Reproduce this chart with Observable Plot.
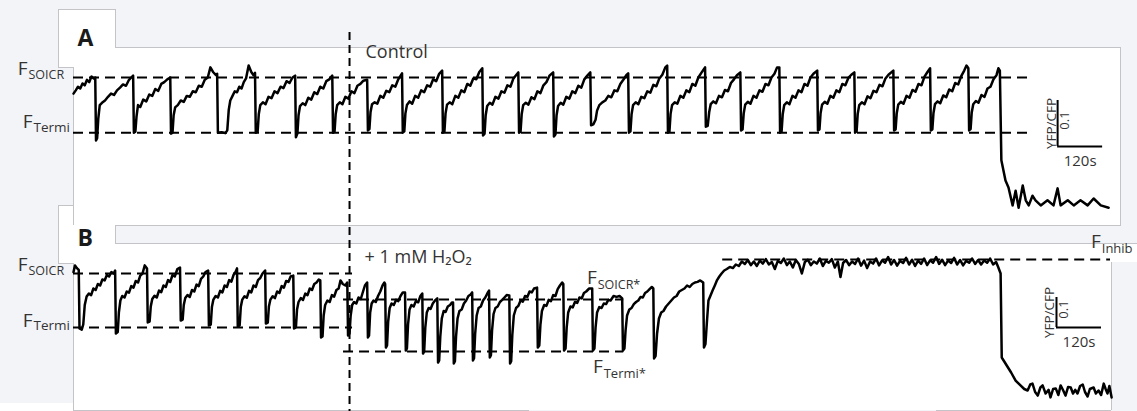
<!DOCTYPE html>
<html><head><meta charset="utf-8">
<script src="https://cdn.jsdelivr.net/npm/d3@7"></script>
<script src="https://cdn.jsdelivr.net/npm/@observablehq/plot@0.6"></script>
<style>
html,body{margin:0;padding:0}
body{width:1137px;height:411px;overflow:hidden;position:relative;background:#f3f4f8;font-family:"Open Sans",sans-serif}
.w{position:absolute;background:#fff}
.h{position:absolute;height:1px;background:#c3c3c8}
.v{position:absolute;width:1px;background:#c3c3c8}
.plot{position:absolute;left:0;top:0}
.t{position:absolute;font-weight:700;color:#1c1c1c;font-size:46px;line-height:46px;font-family:"Open Sans",sans-serif}
</style></head><body>
<div class="t" style="left:421px;top:-53px">g</div>
<div class="t" style="left:951px;top:-52px">y</div>
<!-- panel backgrounds -->
<div class="w" style="left:58px;top:9px;width:57px;height:58px"></div>
<div class="w" style="left:73px;top:47px;width:1047px;height:178px"></div>
<div class="w" style="left:58px;top:205px;width:57px;height:58px"></div>
<div class="w" style="left:73px;top:243px;width:1038px;height:167px"></div>
<div class="w" style="left:1111px;top:243px;width:26px;height:19px"></div>
<div class="w" style="left:0px;top:403px;width:73px;height:8px"></div>
<div class="h" style="left:58px;top:9px;width:57px"></div>
<div class="v" style="left:58px;top:9px;height:58px"></div>
<div class="v" style="left:115px;top:9px;height:38px"></div>
<div class="h" style="left:115px;top:47px;width:1005px"></div>
<div class="v" style="left:1120px;top:47px;height:178px"></div>
<div class="h" style="left:115px;top:225px;width:1006px"></div>
<div class="h" style="left:58px;top:67px;width:15px"></div>
<div class="v" style="left:73px;top:67px;height:158px"></div>
<div class="v" style="left:115px;top:225px;height:18px"></div>
<div class="h" style="left:58px;top:205px;width:15px"></div>
<div class="v" style="left:58px;top:205px;height:58px"></div>
<div class="h" style="left:58px;top:263px;width:15px"></div>
<div class="h" style="left:115px;top:243px;width:1022px"></div>
<div class="v" style="left:73px;top:263px;height:147px"></div>
<div class="v" style="left:1111px;top:262px;height:148px"></div>
<div class="h" style="left:73px;top:410px;width:456px"></div>
<div class="h" style="left:936px;top:410px;width:175px"></div>
<div id="pa" class="plot"></div>
<div id="pb" class="plot"></div>
<script>
// ---------------- data ----------------
// time in s, ratio YFP/CFP (each panel has its own 0.1 scale bar)
const traceA = [
[0,1.165],[6,1.172],[12,1.180],[18,1.176],[24,1.187],[30,1.183],[36,1.195],[42,1.190],[48,1.202],[54,1.198],[58,1.200],
[60,1.063],[63,1.068],[66,1.110],[70,1.140],[76,1.145],[84,1.150],[92,1.158],[100,1.165],[108,1.162],[116,1.172],[124,1.178],[132,1.185],[140,1.182],[148,1.195],[154,1.200],[159,1.204],
[161,1.080],[165,1.082],[168,1.115],[172,1.140],[178,1.136],[186,1.152],[194,1.148],[202,1.163],[210,1.160],[218,1.175],[226,1.171],[234,1.186],[242,1.190],[250,1.196],[258,1.200],
[260,1.078],[264,1.080],[267,1.118],[271,1.135],[278,1.140],[286,1.150],[294,1.147],[302,1.160],[310,1.158],[318,1.170],[326,1.168],[334,1.182],[342,1.180],[350,1.195],[358,1.200],[365,1.222],[372,1.212],[380,1.205],[383,1.208],
[385,1.080],[395,1.081],[405,1.079],[410,1.085],[414,1.130],[418,1.150],[424,1.160],[430,1.170],[436,1.168],[442,1.180],[448,1.176],[454,1.190],[460,1.198],[467,1.226],[474,1.212],[480,1.205],[484,1.210],
[486,1.080],[491,1.083],[494,1.120],[498,1.140],[505,1.146],[512,1.142],[520,1.158],[528,1.155],[536,1.170],[544,1.166],[552,1.180],[560,1.177],[568,1.192],[576,1.188],[584,1.200],[591,1.204],
[593,1.070],[597,1.078],[600,1.118],[604,1.138],[611,1.144],[618,1.140],[626,1.156],[634,1.152],[642,1.168],[650,1.164],[658,1.180],[666,1.176],[674,1.192],[682,1.196],[690,1.204],
[692,1.080],[696,1.082],[699,1.120],[703,1.140],[710,1.146],[717,1.142],[725,1.158],[733,1.154],[741,1.170],[749,1.166],[757,1.182],[765,1.186],[773,1.193],[783,1.195],
[785,1.085],[789,1.088],[792,1.125],[796,1.142],[803,1.146],[810,1.143],[818,1.160],[826,1.156],[834,1.171],[842,1.168],[850,1.183],[858,1.180],[866,1.196],[876,1.209],
[878,1.080],[882,1.083],[885,1.122],[889,1.140],[896,1.148],[903,1.143],[911,1.160],[919,1.156],[927,1.172],[935,1.168],[943,1.183],[951,1.180],[959,1.196],[967,1.192],[975,1.208],[983,1.215],
[985,1.080],[989,1.083],[992,1.122],[996,1.141],[1003,1.146],[1010,1.142],[1018,1.160],[1026,1.156],[1034,1.172],[1042,1.168],[1050,1.186],[1058,1.182],[1066,1.198],[1074,1.196],[1082,1.212],[1090,1.220],
[1092,1.074],[1096,1.078],[1099,1.118],[1103,1.138],[1110,1.145],[1117,1.141],[1125,1.158],[1133,1.154],[1141,1.170],[1149,1.167],[1157,1.183],[1165,1.180],[1173,1.198],[1181,1.206],[1186,1.211],
[1188,1.080],[1192,1.082],[1195,1.120],[1199,1.140],[1206,1.145],[1213,1.141],[1221,1.157],[1229,1.153],[1237,1.170],[1245,1.166],[1253,1.183],[1261,1.190],[1269,1.204],[1279,1.211],
[1281,1.072],[1285,1.076],[1288,1.118],[1292,1.138],[1299,1.145],[1306,1.141],[1314,1.158],[1322,1.154],[1330,1.170],[1338,1.166],[1346,1.182],[1354,1.178],[1362,1.196],[1370,1.204],[1378,1.211],
[1380,1.096],[1386,1.098],[1392,1.108],[1396,1.128],[1402,1.140],[1410,1.146],[1418,1.150],[1426,1.160],[1434,1.157],[1442,1.172],[1450,1.170],[1458,1.186],[1466,1.195],[1474,1.205],[1479,1.209],
[1481,1.080],[1485,1.083],[1488,1.120],[1492,1.140],[1499,1.146],[1506,1.142],[1514,1.158],[1522,1.155],[1530,1.170],[1538,1.167],[1546,1.184],[1554,1.181],[1562,1.198],[1570,1.206],[1578,1.222],[1583,1.226],
[1585,1.080],[1589,1.083],[1592,1.121],[1596,1.140],[1603,1.146],[1610,1.143],[1618,1.160],[1626,1.156],[1634,1.172],[1642,1.168],[1650,1.186],[1658,1.182],[1666,1.200],[1674,1.210],[1684,1.222],
[1686,1.093],[1691,1.095],[1695,1.125],[1699,1.142],[1706,1.148],[1713,1.144],[1721,1.160],[1729,1.157],[1737,1.173],[1745,1.170],[1753,1.188],[1761,1.196],[1769,1.205],[1778,1.211],
[1780,1.085],[1784,1.087],[1787,1.122],[1791,1.141],[1798,1.147],[1805,1.143],[1813,1.160],[1821,1.156],[1829,1.172],[1837,1.169],[1845,1.186],[1853,1.183],[1861,1.200],[1869,1.208],[1876,1.222],[1882,1.222],
[1884,1.080],[1888,1.083],[1891,1.120],[1895,1.140],[1902,1.146],[1909,1.142],[1917,1.160],[1925,1.156],[1933,1.172],[1941,1.168],[1949,1.186],[1957,1.182],[1965,1.200],[1973,1.208],[1983,1.215],
[1985,1.085],[1989,1.087],[1992,1.123],[1996,1.141],[2003,1.147],[2010,1.143],[2018,1.160],[2026,1.156],[2034,1.172],[2042,1.168],[2050,1.186],[2058,1.183],[2066,1.199],[2074,1.206],[2082,1.211],
[2084,1.080],[2088,1.083],[2091,1.121],[2095,1.140],[2102,1.146],[2109,1.142],[2117,1.159],[2125,1.155],[2133,1.171],[2141,1.168],[2149,1.184],[2157,1.181],[2165,1.198],[2173,1.206],[2186,1.215],
[2188,1.085],[2192,1.087],[2195,1.122],[2199,1.141],[2206,1.147],[2213,1.143],[2221,1.160],[2229,1.156],[2237,1.173],[2245,1.169],[2253,1.186],[2261,1.183],[2269,1.202],[2277,1.212],[2284,1.220],
[2286,1.085],[2290,1.087],[2293,1.123],[2297,1.142],[2304,1.148],[2311,1.144],[2319,1.161],[2327,1.157],[2335,1.174],[2343,1.170],[2351,1.188],[2359,1.185],[2367,1.203],[2375,1.215],[2381,1.226],[2386,1.220],
[2388,1.085],[2392,1.088],[2395,1.124],[2399,1.142],[2406,1.149],[2413,1.145],[2421,1.162],[2429,1.158],[2437,1.176],[2445,1.180],[2453,1.196],[2461,1.205],[2466,1.220],[2470,1.215],
[2474,1.020],[2485,0.976],[2493,0.961],[2504,0.922],[2512,0.954],[2520,0.917],[2531,0.965],[2539,0.933],[2547,0.922],[2557,0.943],[2565,0.933],[2579,0.922],[2597,0.933],[2613,0.922],[2624,0.959],[2632,0.922],[2651,0.933],[2667,0.922],[2685,0.933],[2704,0.922],[2720,0.937],[2739,0.922],[2760,0.917]
];
const traceB = [
[0,1.205],[4,1.227],[9,1.218],[14,1.212],[16,1.017],[22,1.013],[26,1.030],[30,1.095],[35,1.123],[41,1.133],[47,1.128],[53,1.150],[59,1.145],[65,1.165],[71,1.160],[77,1.180],[83,1.177],[89,1.195],[95,1.190],[101,1.205],[107,1.200],[111,1.210],
[113,1.000],[118,1.005],[121,1.070],[125,1.110],[130,1.125],[136,1.120],[142,1.140],[148,1.136],[154,1.158],[160,1.153],[166,1.175],[172,1.170],[178,1.193],[184,1.200],[190,1.227],[196,1.217],
[198,1.037],[203,1.040],[206,1.090],[210,1.115],[216,1.126],[222,1.120],[228,1.143],[234,1.138],[240,1.160],[246,1.155],[252,1.178],[258,1.172],[264,1.195],[270,1.190],[277,1.215],[284,1.220],
[286,1.043],[291,1.046],[294,1.095],[298,1.118],[304,1.128],[310,1.122],[316,1.145],[322,1.140],[328,1.163],[334,1.158],[340,1.182],[346,1.190],[352,1.205],[359,1.210],
[361,1.027],[366,1.030],[369,1.088],[373,1.113],[379,1.125],[385,1.120],[391,1.142],[397,1.137],[403,1.160],[409,1.155],[415,1.178],[421,1.173],[427,1.196],[432,1.205],[436,1.217],
[438,1.023],[443,1.027],[446,1.088],[450,1.113],[456,1.124],[462,1.119],[468,1.142],[474,1.137],[480,1.160],[486,1.155],[492,1.178],[498,1.185],[504,1.200],[511,1.210],
[513,1.033],[518,1.036],[521,1.090],[525,1.113],[531,1.124],[537,1.118],[543,1.140],[549,1.135],[555,1.158],[561,1.153],[567,1.175],[573,1.172],[579,1.190],[586,1.193],
[588,1.017],[593,1.020],[596,1.080],[600,1.105],[606,1.118],[612,1.112],[618,1.133],[624,1.128],[630,1.150],[636,1.145],[642,1.165],[648,1.170],[654,1.180],[658,1.177],
[660,0.987],[664,0.990],[667,1.060],[671,1.095],[677,1.110],[683,1.105],[689,1.128],[695,1.123],[701,1.145],[707,1.150],[712,1.177],[718,1.165],[725,1.160],[730,1.170],
[732,0.993],[736,1.000],[739,1.060],[743,1.095],[748,1.105],[754,1.100],[760,1.120],[766,1.115],[772,1.140],[777,1.160],[783,1.170],
[785,0.987],[788,0.993],[791,1.070],[795,1.100],[800,1.110],[806,1.105],[812,1.125],[818,1.140],[824,1.160],[829,1.170],[831,1.165],
[833,0.953],[836,0.960],[839,1.040],[843,1.085],[848,1.100],[854,1.095],[860,1.112],[866,1.108],[872,1.125],[878,1.137],[884,1.137],
[886,0.943],[889,0.950],[892,1.030],[896,1.080],[901,1.095],[907,1.090],[913,1.108],[919,1.104],[925,1.125],[930,1.133],
[932,0.933],[935,0.940],[938,1.020],[942,1.070],[947,1.085],[952,1.082],[958,1.100],[964,1.110],[970,1.117],
[972,0.903],[975,0.910],[978,0.990],[982,1.050],[987,1.075],[992,1.072],[998,1.090],[1004,1.095],[1009,1.103],[1012,1.103],
[1014,0.900],[1017,0.908],[1020,0.990],[1024,1.050],[1029,1.075],[1035,1.080],[1041,1.100],[1047,1.110],[1053,1.125],[1059,1.130],[1063,1.137],
[1065,0.910],[1068,0.918],[1071,1.000],[1075,1.060],[1080,1.085],[1086,1.090],[1092,1.110],[1098,1.120],[1104,1.135],[1108,1.143],
[1110,0.920],[1113,0.928],[1116,1.010],[1120,1.065],[1125,1.085],[1131,1.090],[1137,1.105],[1143,1.112],[1149,1.120],[1155,1.128],[1162,1.127],
[1164,0.900],[1167,0.908],[1170,0.995],[1174,1.060],[1180,1.085],[1186,1.092],[1192,1.110],[1198,1.106],[1204,1.125],[1210,1.122],[1216,1.140],[1222,1.137],[1228,1.150],[1236,1.153],
[1238,0.953],[1242,0.960],[1245,1.030],[1249,1.075],[1255,1.095],[1261,1.092],[1267,1.112],[1273,1.108],[1279,1.128],[1285,1.125],[1291,1.148],[1297,1.160],[1303,1.170],[1306,1.165],
[1308,0.943],[1312,0.950],[1315,1.020],[1319,1.070],[1325,1.090],[1331,1.087],[1337,1.105],[1343,1.102],[1349,1.120],[1355,1.117],[1361,1.135],[1367,1.140],[1375,1.150],[1383,1.150],
[1385,0.943],[1389,0.950],[1392,1.020],[1396,1.070],[1402,1.088],[1408,1.085],[1414,1.100],[1420,1.098],[1426,1.112],[1432,1.110],[1440,1.125],[1448,1.122],[1456,1.125],[1463,1.117],
[1465,0.943],[1469,0.950],[1472,1.010],[1476,1.060],[1482,1.080],[1488,1.085],[1494,1.098],[1500,1.105],[1506,1.110],[1512,1.122],[1518,1.120],[1524,1.135],[1530,1.140],[1536,1.148],[1542,1.155],[1546,1.150],
[1548,0.917],[1552,0.925],[1556,1.000],[1561,1.050],[1567,1.070],[1573,1.075],[1580,1.090],[1587,1.100],[1594,1.110],[1601,1.120],[1608,1.125],[1615,1.140],[1622,1.145],[1629,1.150],[1636,1.160],[1643,1.155],[1650,1.165],[1657,1.170],[1664,1.172],[1671,1.177],[1679,1.170],
[1681,0.953],[1685,0.965],[1689,1.040],[1693,1.110],[1698,1.125],[1704,1.143],[1710,1.160],[1716,1.178],[1722,1.190],[1728,1.200],[1735,1.210],[1742,1.215],[1750,1.222],[1758,1.218],[1766,1.230],[1774,1.225],
[1782,1.240],[1790,1.232],[1798,1.245],[1806,1.228],[1814,1.240],[1822,1.225],[1830,1.243],[1838,1.233],[1846,1.248],[1854,1.230],[1862,1.238],[1870,1.215],[1878,1.242],[1886,1.235],[1894,1.250],[1902,1.228],[1910,1.240],[1918,1.220],[1926,1.245],[1934,1.232],[1942,1.200],[1950,1.238],[1958,1.246],[1966,1.228],[1974,1.240],[1982,1.233],[1990,1.250],[1998,1.225],[2006,1.242],[2014,1.236],[2022,1.248],[2030,1.220],[2038,1.240],[2045,1.188],[2052,1.235],[2060,1.245],[2068,1.228],[2076,1.240],[2084,1.232],[2092,1.250],[2100,1.226],[2108,1.243],[2116,1.218],[2124,1.240],[2132,1.233],[2140,1.250],[2148,1.227],[2156,1.244],[2164,1.236],[2172,1.255],[2180,1.230],[2188,1.245],[2196,1.226],[2204,1.242],[2212,1.235],[2220,1.252],[2228,1.230],[2236,1.246],[2244,1.225],[2252,1.243],[2260,1.232],[2268,1.250],[2276,1.228],[2284,1.244],[2292,1.236],[2300,1.255],[2308,1.232],[2316,1.246],[2324,1.228],[2332,1.243],[2340,1.235],[2348,1.252],[2356,1.230],[2364,1.245],[2372,1.227],[2380,1.242],[2388,1.236],[2396,1.250],[2404,1.232],[2412,1.245],[2420,1.230],[2428,1.243],[2436,1.236],[2444,1.250],[2452,1.230],[2460,1.238],[2466,1.220],
[2472,1.200],[2475,0.920],[2485,0.900],[2500,0.870],[2512,0.843],[2525,0.827],[2535,0.815],[2544,0.810],[2551,0.830],[2557,0.833],[2564,0.805],[2571,0.793],[2578,0.820],[2584,0.827],[2592,0.800],[2600,0.812],[2605,0.787],[2612,0.815],[2619,0.817],[2626,0.795],[2632,0.827],[2639,0.810],[2645,0.793],[2652,0.822],[2659,0.820],[2665,0.800],[2671,0.812],[2677,0.800],[2684,0.825],[2691,0.830],[2697,0.805],[2704,0.790],[2710,0.815],[2720,0.820],[2726,0.800],[2733,0.810],[2740,0.795],[2747,0.833],[2752,0.815],[2757,0.800],[2762,0.825],[2768,0.787]
];
const levelNamesA = ["SOICR", "Termi"];
const levelValuesA = [1.20, 1.08];
const levelStartA = [0, 0];
const levelEndA = [2544, 2544];
const levelNamesB = ["SOICR", "Termi", "SOICR*", "Termi*", "Inhib"];
const levelValuesB = [1.20, 1.02, 1.113, 0.94, 1.247];
const levelStartB = [0, 0, 720, 720, 1731];
const levelEndB = [744, 744, 1467, 1467, 2765];
const panelNames = ["A", "B"];
const conditionNames = ["Control", "+ 1 mM H\u2082O\u2082"];
const treatmentTime = 736;
const starLabelTimes = [1395, 1411, 2739];
const scaleLabels = ["YFP/CFP", "0.1", "120s"];
const scaleSize = [120, 0.1];
const scaleOriginA = [2624, 1.05];
const scaleOriginB = [2621, 1.02];

// ---------------- drawing ----------------
const XS = {domain: [0, 2765], range: [73, 1110], axis: null};
const ink = "#000", txt = "#333";
const lev = (names, vals, s, e) => names.map((n, i) => ({name: n, r: vals[i], t1: s[i], t2: e[i]}));
const LA = lev(levelNamesA, levelValuesA, levelStartA, levelEndA);
const LB = lev(levelNamesB, levelValuesB, levelStartB, levelEndB);

function fLabel(t, r, sub, o) {
  return [
    Plot.text([0], {x: () => t, y: () => r, text: () => "F", textAnchor: "end", lineAnchor: "bottom", dx: o.dx, dy: o.fdy, fontSize: 19, fill: txt}),
    Plot.text([0], {x: () => t, y: () => r, text: () => sub, textAnchor: "start", lineAnchor: "bottom", dx: o.dx + 1, dy: o.sdy, fontSize: o.ss || 12.5, fill: txt})
  ];
}
function scaleBar(orig) {
  const [t0, r0] = orig, [dt, dr] = scaleSize;
  return [
    Plot.ruleX([t0], {y1: r0, y2: r0 + dr, stroke: ink, strokeWidth: 2}),
    Plot.ruleY([r0], {x1: t0, x2: t0 + dt, stroke: ink, strokeWidth: 2}),
    Plot.text([0], {x: () => t0, y: () => r0 + dr / 2, text: () => scaleLabels[0], rotate: -90, textAnchor: "middle", lineAnchor: "bottom", dx: -2, fontSize: 13.5, fill: txt}),
    Plot.text([0], {x: () => t0, y: () => r0 + dr / 2, text: () => scaleLabels[1], rotate: -90, textAnchor: "middle", lineAnchor: "top", dx: 2, dy: -3, fontSize: 13, fill: txt}),
    Plot.text([0], {x: () => t0 + dt / 2, y: () => r0, text: () => scaleLabels[2], textAnchor: "middle", lineAnchor: "middle", dy: 15, fontSize: 15, fill: txt})
  ];
}
const common = {width: 1137, height: 411, marginLeft: 0, marginRight: 0, marginBottom: 0,
  style: {background: "transparent", overflow: "visible", fontFamily: "'Open Sans', sans-serif"}};

const plotA = Plot.plot({
  ...common, marginTop: 32,
  x: XS, y: {domain: [0.8, 1.3], range: [261, 31], axis: null},
  marks: [
    Plot.ruleY(LA, {y: "r", x1: "t1", x2: "t2", stroke: ink, strokeWidth: 2, strokeDasharray: "10,6"}),
    Plot.ruleX([treatmentTime], {stroke: ink, strokeWidth: 2, strokeDasharray: "8,5"}),
    Plot.line(traceA, {x: d => d[0], y: d => d[1], stroke: ink, strokeWidth: 2.5}),
    ...fLabel(LA[0].t1, LA[0].r, LA[0].name, {dx: -46, fdy: -3, sdy: 1}),
    ...fLabel(LA[1].t1, LA[1].r, LA[1].name, {dx: -41, fdy: -5, sdy: -1, ss: 13.5}),
    Plot.text([0], {x: () => LA[0].t1, y: () => LA[0].r, text: () => panelNames[0], textAnchor: "start", lineAnchor: "bottom", dx: 4, dy: -32, fontSize: 23, fontWeight: "bold", fill: "#1a1a1a"}),
    Plot.text([0], {x: () => treatmentTime, y: () => LA[0].r, text: () => conditionNames[0], textAnchor: "start", lineAnchor: "bottom", dx: 16, dy: -20, fontSize: 18, fill: txt}),
    ...scaleBar(scaleOriginA)
  ]
});
document.getElementById("pa").append(plotA);

const plotB = Plot.plot({
  ...common, marginTop: 0,
  x: XS, y: {domain: [0.7, 1.3], range: [423, 243], axis: null},
  marks: [
    Plot.ruleY(LB, {y: "r", x1: "t1", x2: "t2", stroke: ink, strokeWidth: 2, strokeDasharray: "10,6"}),
    Plot.line(traceB, {x: d => d[0], y: d => d[1], stroke: ink, strokeWidth: 2.5}),
    ...fLabel(LB[0].t1, LB[0].r, LB[0].name, {dx: -46, fdy: -3, sdy: 1}),
    ...fLabel(LB[1].t1, LB[1].r, LB[1].name, {dx: -41, fdy: -1, sdy: 2, ss: 13.5}),
    ...fLabel(starLabelTimes[0], LB[2].r, LB[2].name, {dx: 0, fdy: -16, sdy: -11}),
    ...fLabel(starLabelTimes[1], LB[3].r, LB[3].name, {dx: 0, fdy: 21, sdy: 26, ss: 13}),
    ...fLabel(starLabelTimes[2], LB[4].r, LB[4].name, {dx: 0, fdy: -11, sdy: -6, ss: 13}),
    Plot.text([0], {x: () => LB[0].t1, y: () => LB[0].r, text: () => panelNames[1], textAnchor: "start", lineAnchor: "bottom", dx: 4, dy: -28, fontSize: 23, fontWeight: "bold", fill: "#1a1a1a"}),
    Plot.text([0], {x: () => treatmentTime, y: () => LB[0].r, text: () => conditionNames[1], textAnchor: "start", lineAnchor: "bottom", dx: 15, dy: -11, fontSize: 18, fill: txt}),
    ...scaleBar(scaleOriginB)
  ]
});
document.getElementById("pb").append(plotB);
</script>
</body></html>
